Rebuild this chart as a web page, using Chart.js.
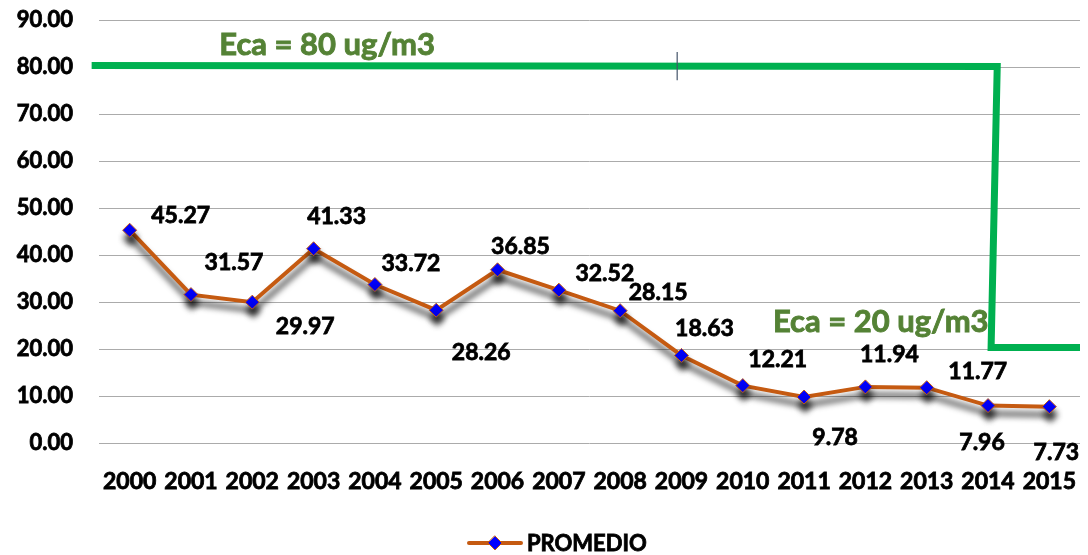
<!DOCTYPE html>
<html>
<head>
<meta charset="utf-8">
<script src="https://cdn.jsdelivr.net/npm/chart.js@4/dist/chart.umd.min.js"></script>
<style>
  html, body { margin:0; padding:0; background:#fff; }
  #wrap { width:1088px; height:555px; position:relative; }
</style>
</head>
<body>
<div id="wrap"><canvas id="chart"></canvas></div>
<script>
// ── Data ─────────────────────────────────────────────────
const YEARS    = ["2000","2001","2002","2003","2004","2005","2006","2007",
                  "2008","2009","2010","2011","2012","2013","2014","2015"];
const PROMEDIO = [45.27,31.57,29.97,41.33,33.72,28.26,36.85,32.52,
                  28.15,18.63,12.21,9.78,11.94,11.77,7.96,7.73];
const Y_TICKS  = [0,10,20,30,40,50,60,70,80,90];

// Eca limit line, as [category index, value]
const ECA_LINE   = [[-0.62,80.3],[14.15,80.1],[14.05,20.3],[15.5,20.3]];
const ECA_TEXTS  = [
  { text:"Eca = 80 ug/m3", at:[3.22,84.7] },
  { text:"Eca = 20 ug/m3", at:[12.25,25.7] },
];

// label placement (px, relative to each point)
const LABEL_OFFSETS = [
  [51,-15],[43,-32],[53,24],[23,-32],[36,-21],[45,42],[23,-23],[46,-17],
  [38,-18],[23,-27],[35,-26],[31,41],[24,-32],[51,-16],[-6,37],[7,46]
];

const FONT   = "Lato, 'Liberation Sans', sans-serif";
const ORANGE = "#C55A11";
const BLUE   = "#0000FF";
const GREEN  = "#00B050";
const GREEN_TXT = "#548235";

// ── Plugins ──────────────────────────────────────────────
const shadowPlugin = {
  id: "shadow",
  beforeDatasetsDraw(chart) {
    const c = chart.ctx;
    c.save();
    c.shadowColor   = "rgba(0,0,0,0.8)";
    c.shadowBlur    = 6;
    c.shadowOffsetX = 1;
    c.shadowOffsetY = 8;
  },
  afterDatasetsDraw(chart) { chart.ctx.restore(); }
};

function heavyText(c, s, x, y) {
  c.strokeText(s, x, y);
  c.fillText(s, x, y);
}

const overlayPlugin = {
  id: "overlay",
  afterDatasetsDraw(chart) {
    const c = chart.ctx;
    // data labels
    const meta = chart.getDatasetMeta(0);
    c.save();
    c.font = "bold 23px " + FONT;
    c.fillStyle = "#000";
    c.strokeStyle = "#000";
    c.lineWidth = 0.8;
    c.textAlign = "center";
    c.textBaseline = "middle";
    meta.data.forEach((pt, i) => {
      const [dx, dy] = LABEL_OFFSETS[i];
      heavyText(c, PROMEDIO[i].toFixed(2), pt.x + dx, pt.y + dy);
    });
    c.restore();
  },
  afterDraw(chart) {
    const c = chart.ctx, xs = chart.scales.x, ys = chart.scales.y;
    const px = v => xs.getPixelForValue(v), py = v => ys.getPixelForValue(v);

    // Eca step line
    c.save();
    c.strokeStyle = GREEN;
    c.lineWidth = 7;
    c.lineJoin = "miter";
    c.beginPath();
    ECA_LINE.forEach(([x, y], i) => i ? c.lineTo(px(x), py(y)) : c.moveTo(px(x), py(y)));
    c.stroke();

    // small tick mark on the 80 line
    c.strokeStyle = "#44546A";
    c.lineWidth = 1.2;
    c.beginPath();
    c.moveTo(px(8.93), py(83.2));
    c.lineTo(px(8.93), py(77.2));
    c.stroke();

    // Eca texts
    c.font = "bold 31px " + FONT;
    c.fillStyle = GREEN_TXT;
    c.strokeStyle = GREEN_TXT;
    c.lineWidth = 0.9;
    c.textAlign = "center";
    c.textBaseline = "middle";
    ECA_TEXTS.forEach(t => heavyText(c, t.text, px(t.at[0]), py(t.at[1])));

    // legend
    const lx = 495, ly = 543;
    c.strokeStyle = ORANGE;
    c.lineWidth = 4;
    c.lineCap = "round";
    c.beginPath();
    c.moveTo(lx - 26, ly); c.lineTo(lx + 26, ly);
    c.stroke();
    c.fillStyle = BLUE;
    c.strokeStyle = ORANGE;
    c.lineWidth = 1;
    c.beginPath();
    c.moveTo(lx, ly - 7); c.lineTo(lx + 7, ly); c.lineTo(lx, ly + 7); c.lineTo(lx - 7, ly);
    c.closePath(); c.fill(); c.stroke();
    c.font = "bold 22px " + FONT;
    c.fillStyle = "#000";
    c.strokeStyle = "#000";
    c.lineWidth = 0.8;
    c.textAlign = "left";
    heavyText(c, chart.data.datasets[0].label, lx + 32, ly + 1);
    c.restore();
  }
};

// ── Chart ────────────────────────────────────────────────
new Chart(document.getElementById("chart"), {
  type: "line",
  data: {
    labels: YEARS,
    datasets: [{
      label: "PROMEDIO",
      data: PROMEDIO,
      borderColor: ORANGE,
      borderWidth: 4,
      tension: 0,
      pointStyle: "rectRot",
      pointRadius: 7,
      pointBackgroundColor: BLUE,
      pointBorderColor: ORANGE,
      pointBorderWidth: 1,
    }]
  },
  options: {
    responsive: true,
    maintainAspectRatio: false,
    animation: false,
    layout: { padding: { top: 20, right: -8, left: 0, bottom: 0 } },
    plugins: {
      legend: { display: false },
      tooltip: { enabled: false }
    },
    scales: {
      x: {
        offset: true,
        grid: { display: false, drawTicks: false },
        border: { display: false },
        ticks: { color: "#000", font: { family: FONT, size: 23, weight: "bold" }, padding: 25,
                 textStrokeColor: "#000", textStrokeWidth: 0.8, maxRotation: 0, autoSkip: false },
        afterFit: s => { s.height = 112; s.paddingLeft = 0; s.paddingRight = 0; }
      },
      y: {
        min: 0, max: 90,
        afterBuildTicks: s => { s.ticks = Y_TICKS.map(v => ({ value: v })); },
        grid: { color: "#ababab", lineWidth: 1, drawTicks: false },
        border: { display: false },
        ticks: { color: "#000", font: { family: FONT, size: 22, weight: "bold" }, padding: 26,
                 textStrokeColor: "#000", textStrokeWidth: 0.8,
                 callback: v => Number(v).toFixed(2) },
        afterFit: s => { s.width = 99; s.paddingTop = 0; s.paddingBottom = 0; }
      }
    }
  },
  plugins: [shadowPlugin, overlayPlugin]
});
</script>
</body>
</html>
